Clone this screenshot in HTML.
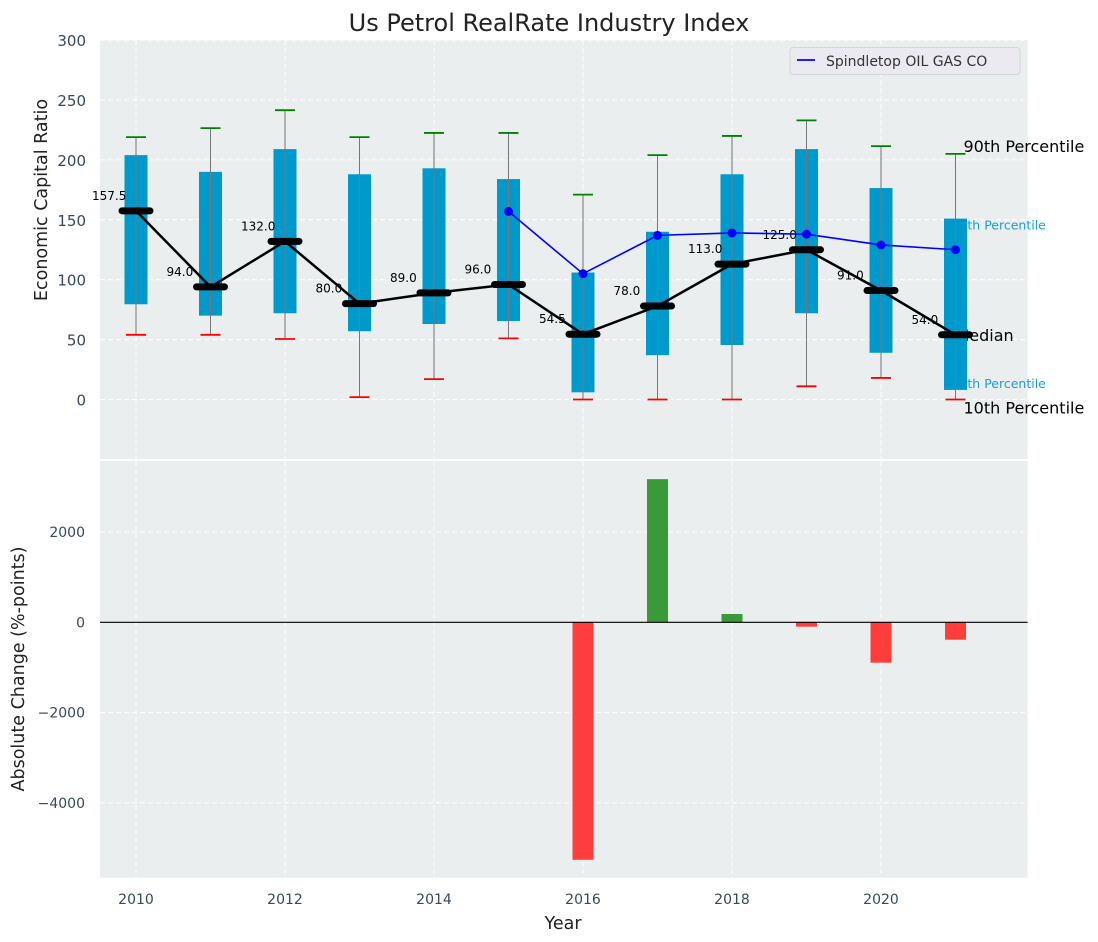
<!DOCTYPE html>
<html><head><meta charset="utf-8"><style>
body{margin:0;background:#fff;}
svg{display:block;font-family:"DejaVu Sans","Liberation Sans",sans-serif;}
</style></head><body>
<svg id="chart" width="1098" height="942" xmlns="http://www.w3.org/2000/svg">
<text x="549" y="31" text-anchor="middle" font-size="24" fill="#222">Us Petrol RealRate Industry Index</text>
<rect x="100" y="40" width="927.6" height="419" fill="#eaeeee"/>
<rect x="100" y="461" width="927.6" height="416.7" fill="#eaeeee"/>
<g id="grid"></g>
<g id="annot"></g>
<g id="marks"></g>
<g id="legend">
<rect x="790" y="47.5" width="230" height="27" rx="3" fill="#eaeaf0" stroke="#d4d4d8"/>
<line x1="797" y1="60" x2="815" y2="60" stroke="#0000ff" stroke-width="1.8"/>
<text x="826" y="66" font-size="14" fill="#333">Spindletop OIL GAS CO</text>
</g>
<text transform="translate(47,200) rotate(-90)" text-anchor="middle" font-size="17.5" fill="#222">Economic Capital Ratio</text>
<text transform="translate(24,669) rotate(-90)" text-anchor="middle" font-size="17.5" fill="#222">Absolute Change (%-points)</text>
<text x="563" y="929" text-anchor="middle" font-size="17.5" fill="#222">Year</text>
</svg>
<script>
const years=[2010,2011,2012,2013,2014,2015,2016,2017,2018,2019,2020,2021];
const p10=[54,54,50.5,2,17,51,0,0,0,11,18,0];
const p25=[79.5,70,72,57,63,65.5,6,37,45.5,72,39,8];
const median=[157.5,94,132,80,89,96,54.5,78,113,125,91,54];
const p75=[204,190,209,188,193,184,106,140,188,209,176.5,151];
const p90=[219,226.5,241.5,219,222.5,222.5,171,204,220,233,211.5,205];
const companyYears=[2015,2016,2017,2018,2019,2020,2021];
const companyValues=[157,105,137,139,138,129,125];
const changeYears=[2016,2017,2018,2019,2020,2021];
const changeValues=[-5260,3170,184,-97,-894,-385];
const topTicks=[0,50,100,150,200,250,300];
const bottomTicks=[-4000,-2000,0,2000];
const xTicks=[2010,2012,2014,2016,2018,2020];

const NS="http://www.w3.org/2000/svg";
const X=y=>136+(y-2010)*74.5;
const Y1=v=>399.5-v*1.198;
const Y2=v=>622.3-v*0.04515;
function mk(parent,tag,attrs,text){const e=document.createElementNS(NS,tag);for(const k in attrs)e.setAttribute(k,attrs[k]);if(text!==undefined)e.textContent=text;document.getElementById(parent).appendChild(e);return e;}

topTicks.forEach(t=>{
 const g=mk('grid','line',{x1:100,x2:1027.6,y1:Y1(t),y2:Y1(t),stroke:'#fff','stroke-dasharray':'5,3','stroke-width':1});
 
 
 const l=mk('grid','text',{x:86,y:Y1(t)+6,'text-anchor':'end','font-size':15,fill:'#34495e'},String(t));
 
 
});
bottomTicks.forEach(t=>{
 if(t!==0){const g=mk('grid','line',{x1:100,x2:1027.6,y1:Y2(t),y2:Y2(t),stroke:'#fff','stroke-dasharray':'5,3','stroke-width':1});
 
 }
 const l=mk('grid','text',{x:85,y:Y2(t)+5,'text-anchor':'end','font-size':14,fill:'#34495e'},String(t).replace('-','\u2212'));
 
 
});
xTicks.forEach(t=>{
 [[40,459],[461,877.7]].forEach(r=>{const g=mk('grid','line',{x1:X(t),x2:X(t),y1:r[0],y2:r[1],stroke:'#fff','stroke-dasharray':'5,3','stroke-width':1});
 
 });
 const l=mk('grid','text',{x:X(t),y:904,'text-anchor':'middle','font-size':14,fill:'#34495e'},String(t));
 
 
});

const last=years.length-1;
[[X(2021)+8,Y1(p90[last])-2,'90th Percentile','#000',16,'p90-label'],
 [X(2021),Y1(median[last])+6,'Median','#000',16,'median-label'],
 [X(2021)+8,Y1(p10[last])+14,'10th Percentile','#000',16,'p10-label'],
 [X(2021)-4,Y1(p75[last])+11,'75th Percentile','#1a9fcf',12.5,'p75-label'],
 [X(2021)-4,Y1(p25[last])-2,'25th Percentile','#1a9fcf',12.5,'p25-label']].forEach(a=>{
 const t=mk('annot','text',{x:a[0],y:a[1],'font-size':a[4],fill:a[3]},a[2]);
 
 
});

years.forEach((yr,i)=>{
 const x=X(yr);
 const b=mk('marks','rect',{x:x-11.5,y:Y1(p75[i]),width:23,height:Y1(p25[i])-Y1(p75[i]),fill:'#0099cc'});
 
 
 const w=mk('marks','line',{x1:x,x2:x,y1:Y1(p10[i]),y2:Y1(p90[i]),stroke:'#777','stroke-width':1});
 
 
 const c1=mk('marks','line',{x1:x-10,x2:x+10,y1:Y1(p90[i]),y2:Y1(p90[i]),stroke:'green','stroke-width':1.8});
 
 
 const c2=mk('marks','line',{x1:x-10,x2:x+10,y1:Y1(p10[i]),y2:Y1(p10[i]),stroke:'red','stroke-width':1.8});
 
 
});
const ml=mk('marks','polyline',{points:years.map((y,i)=>X(y)+','+Y1(median[i])).join(' '),fill:'none',stroke:'#000','stroke-width':2.5});


years.forEach((yr,i)=>{
 const x=X(yr),y=Y1(median[i]);
 const m=mk('marks','line',{x1:x-14,x2:x+14,y1:y,y2:y,stroke:'#000','stroke-width':7,'stroke-linecap':'round'});
 
 
 const t=mk('marks','text',{x:x-44,y:y-11,'font-size':12,fill:'#000'},median[i].toFixed(1));
 
 
});
const cl=mk('marks','polyline',{points:companyYears.map((y,i)=>X(y)+','+Y1(companyValues[i])).join(' '),fill:'none',stroke:'#0000ff','stroke-width':1.6});


companyYears.forEach((yr,i)=>{
 const p=mk('marks','circle',{cx:X(yr),cy:Y1(companyValues[i]),r:4.5,fill:'#0000ff'});
 
 
});
changeYears.forEach((yr,i)=>{
 const v=changeValues[i];
 const y0=Y2(Math.max(v,0)),y1=Y2(Math.min(v,0));
 const r=mk('marks','rect',{x:X(yr)-10.5,y:y0,width:21,height:y1-y0,fill:v>=0?'#3a9a3a':'#ff3d3d'});
 
 
});
const z=mk('marks','line',{x1:100,x2:1027.6,y1:Y2(0),y2:Y2(0),stroke:'#000','stroke-width':1.2});


</script>
</body></html>
